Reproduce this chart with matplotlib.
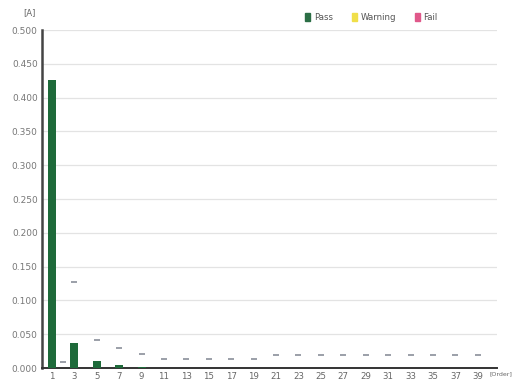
import numpy as np
import matplotlib.pyplot as plt
from matplotlib.patches import Patch

# harmonic orders shown on the axis
orders = list(range(1, 41))
label_orders = list(range(1, 40, 2))

# measured current per order [A] (only the visible bars)
bar_orders = [1, 3, 5, 7, 9]
bar_values = [0.426, 0.037, 0.011, 0.004, 0.0012]

# limit values per order [A]
limit_orders = [2, 3, 5, 7, 9] + list(range(11, 40, 2))
limit_values = ([0.0085, 0.127, 0.042, 0.029, 0.021]
                + [0.013] * 5 + [0.019] * 10)

y_ticks = np.arange(0, 0.501, 0.05)

fig = plt.figure(figsize=(5.16, 3.81), dpi=100)
ax = fig.add_axes([0.081, 0.034, 0.882, 0.887])

ax.bar(bar_orders, bar_values, width=0.72, color='#1e6a3a', zorder=3)
ax.scatter(limit_orders, limit_values, marker='_', s=22, color='#8a8f99',
           linewidths=1.2, zorder=4)

ax.set_xlim(0.1, 40.7)
ax.set_ylim(0, 0.5)
ax.set_yticks(y_ticks)
ax.set_yticklabels([f'{v:.3f}' for v in y_ticks])
ax.set_xticks(label_orders)
ax.set_xticklabels([str(o) for o in label_orders])
ax.tick_params(axis='y', labelsize=6.5, colors='#777777', length=0, pad=3)
ax.tick_params(axis='x', labelsize=6.2, colors='#666666', length=0, pad=3)
ax.grid(axis='y', color='#e3e3e3', linewidth=0.9, zorder=0)

for s in ['top', 'right']:
    ax.spines[s].set_visible(False)
ax.spines['left'].set_color('#444444')
ax.spines['left'].set_linewidth(1.8)
ax.spines['bottom'].set_color('#333333')
ax.spines['bottom'].set_linewidth(1.4)

fig.text(0.058, 0.968, '[A]', fontsize=6, color='#666666', ha='center', va='center')
fig.text(0.948, 0.018, '[Order]', fontsize=4.5, color='#666666', ha='left', va='center')

handles = [Patch(color='#2b6e45', label='Pass'),
           Patch(color='#f0df4a', label='Warning'),
           Patch(color='#e0588a', label='Fail')]
fig.legend(handles=handles, loc='center', bbox_to_anchor=(0.72, 0.955), ncol=3,
           frameon=False, fontsize=6.2, handlelength=0.6, handleheight=1.1,
           handletextpad=0.4, columnspacing=2.2, labelcolor='#555555')

fig.savefig('out.png', dpi=100, facecolor='white')
